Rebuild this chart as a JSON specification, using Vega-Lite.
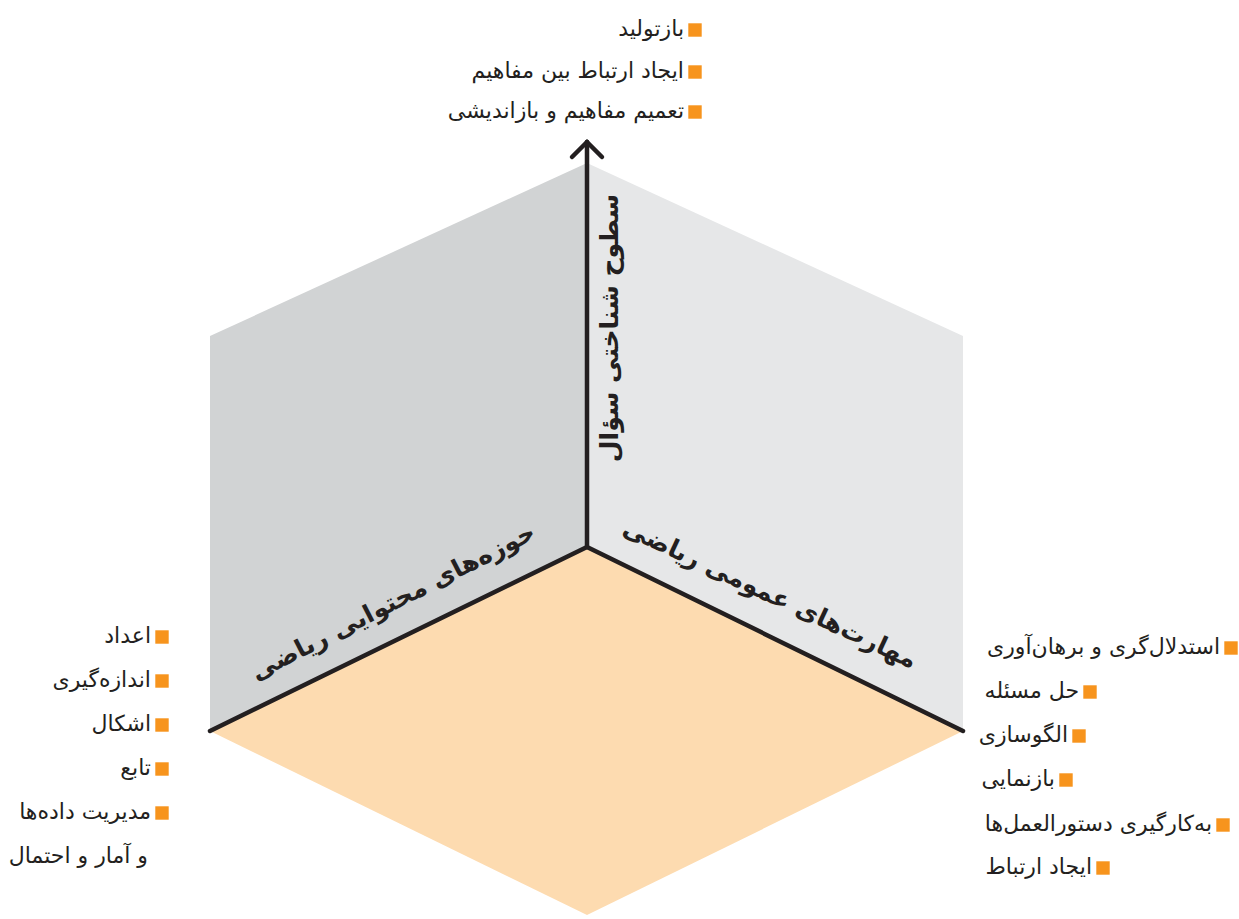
{
  "$schema": "https://vega.github.io/schema/vega-lite/v6.json",
  "width": 1239,
  "height": 919,
  "autosize": {"type": "fit", "contains": "padding"},
  "padding": 0,
  "background": "#ffffff",
  "config": {"view": {"stroke": null}, "text": {"font": "DejaVu Sans"}},
  "datasets": {
    "faces": [
      {"face": "left", "i": 0, "x": 587, "y": 163},
      {"face": "left", "i": 1, "x": 210, "y": 336},
      {"face": "left", "i": 2, "x": 210, "y": 731},
      {"face": "left", "i": 3, "x": 587, "y": 547},
      {"face": "right", "i": 0, "x": 587, "y": 163},
      {"face": "right", "i": 1, "x": 963, "y": 336},
      {"face": "right", "i": 2, "x": 963, "y": 731},
      {"face": "right", "i": 3, "x": 587, "y": 547},
      {"face": "bottom", "i": 0, "x": 587, "y": 547},
      {"face": "bottom", "i": 1, "x": 963, "y": 731},
      {"face": "bottom", "i": 2, "x": 587, "y": 915},
      {"face": "bottom", "i": 3, "x": 210, "y": 731}
    ],
    "segs": [
      {"x": 587, "y": 547, "x2": 587, "y2": 142},
      {"x": 587, "y": 547, "x2": 210, "y2": 731},
      {"x": 587, "y": 547, "x2": 963, "y2": 731},
      {"x": 572, "y": 157, "x2": 587, "y2": 142},
      {"x": 602, "y": 157, "x2": 587, "y2": 142}
    ],
    "items": [
      {"label": "بازتولید", "x": 695, "y": 30, "bullet": true},
      {"label": "ایجاد ارتباط بین مفاهیم", "x": 695, "y": 72, "bullet": true},
      {"label": "تعمیم مفاهیم و بازاندیشی", "x": 695, "y": 112, "bullet": true},
      {"label": "اعداد", "x": 162, "y": 637, "bullet": true},
      {"label": "اندازه‌گیری", "x": 162, "y": 681, "bullet": true},
      {"label": "اشکال", "x": 162, "y": 725, "bullet": true},
      {"label": "تابع", "x": 162, "y": 769, "bullet": true},
      {"label": "مدیریت داده‌ها", "x": 162, "y": 813, "bullet": true},
      {"label": "و آمار و احتمال", "x": 159, "y": 857, "bullet": false},
      {"label": "استدلال‌گری و برهان‌آوری", "x": 1231, "y": 648, "bullet": true},
      {"label": "حل مسئله", "x": 1090, "y": 692, "bullet": true},
      {"label": "الگوسازی", "x": 1079, "y": 736, "bullet": true},
      {"label": "بازنمایی", "x": 1066, "y": 780, "bullet": true},
      {"label": "به‌کارگیری دستورالعمل‌ها", "x": 1223, "y": 825, "bullet": true},
      {"label": "ایجاد ارتباط", "x": 1103, "y": 868, "bullet": true}
    ],
    "titles": [
      {"id": "v", "label": "سطوح شناختی سؤال", "x": 610, "y": 328},
      {"id": "l", "label": "حوزه‌های محتوایی ریاضی", "x": 393, "y": 602},
      {"id": "r", "label": "مهارت‌های عمومی ریاضی", "x": 770, "y": 594}
    ]
  },
  "encoding": {
    "x": {"field": "x", "type": "quantitative", "scale": {"domain": [0, 1239], "nice": false, "zero": false}, "axis": null},
    "y": {"field": "y", "type": "quantitative", "scale": {"domain": [0, 919], "nice": false, "zero": false, "reverse": true}, "axis": null}
  },
  "layer": [
    {
      "data": {"name": "faces"},
      "mark": {"type": "line", "interpolate": "linear-closed", "strokeWidth": 0},
      "encoding": {
        "fill": {"field": "face", "type": "nominal", "scale": {"domain": ["left", "right", "bottom"], "range": ["#d1d3d4", "#e6e7e8", "#fddbb0"]}, "legend": null},
        "detail": {"field": "face", "type": "nominal"},
        "order": {"field": "i", "type": "quantitative"}
      }
    },
    {
      "data": {"name": "segs"},
      "mark": {"type": "rule", "color": "#231f20", "strokeWidth": 4.5, "strokeCap": "round"},
      "encoding": {
        "x2": {"field": "x2"},
        "y2": {"field": "y2"}
      }
    },
    {
      "data": {"name": "items"},
      "transform": [{"filter": "datum.bullet"}],
      "mark": {"type": "square", "size": 180, "filled": true, "color": "#f7941d", "opacity": 1},
      "encoding": {}
    },
    {
      "data": {"name": "items"},
      "mark": {"type": "text", "align": "right", "baseline": "alphabetic", "dx": -11, "dy": 6, "fontSize": 22, "color": "#231f20"},
      "encoding": {"text": {"field": "label"}}
    },
    {
      "data": {"name": "titles"},
      "transform": [{"filter": "datum.id == 'v'"}],
      "mark": {"type": "text", "align": "center", "baseline": "middle", "angle": 270, "fontSize": 25, "fontWeight": "bold", "color": "#231f20"},
      "encoding": {"text": {"field": "label"}}
    },
    {
      "data": {"name": "titles"},
      "transform": [{"filter": "datum.id == 'l'"}],
      "mark": {"type": "text", "align": "center", "baseline": "middle", "angle": -27, "fontSize": 25, "fontWeight": "bold", "color": "#231f20"},
      "encoding": {"text": {"field": "label"}}
    },
    {
      "data": {"name": "titles"},
      "transform": [{"filter": "datum.id == 'r'"}],
      "mark": {"type": "text", "align": "center", "baseline": "middle", "angle": 25, "fontSize": 25, "fontWeight": "bold", "color": "#231f20"},
      "encoding": {"text": {"field": "label"}}
    }
  ]
}
